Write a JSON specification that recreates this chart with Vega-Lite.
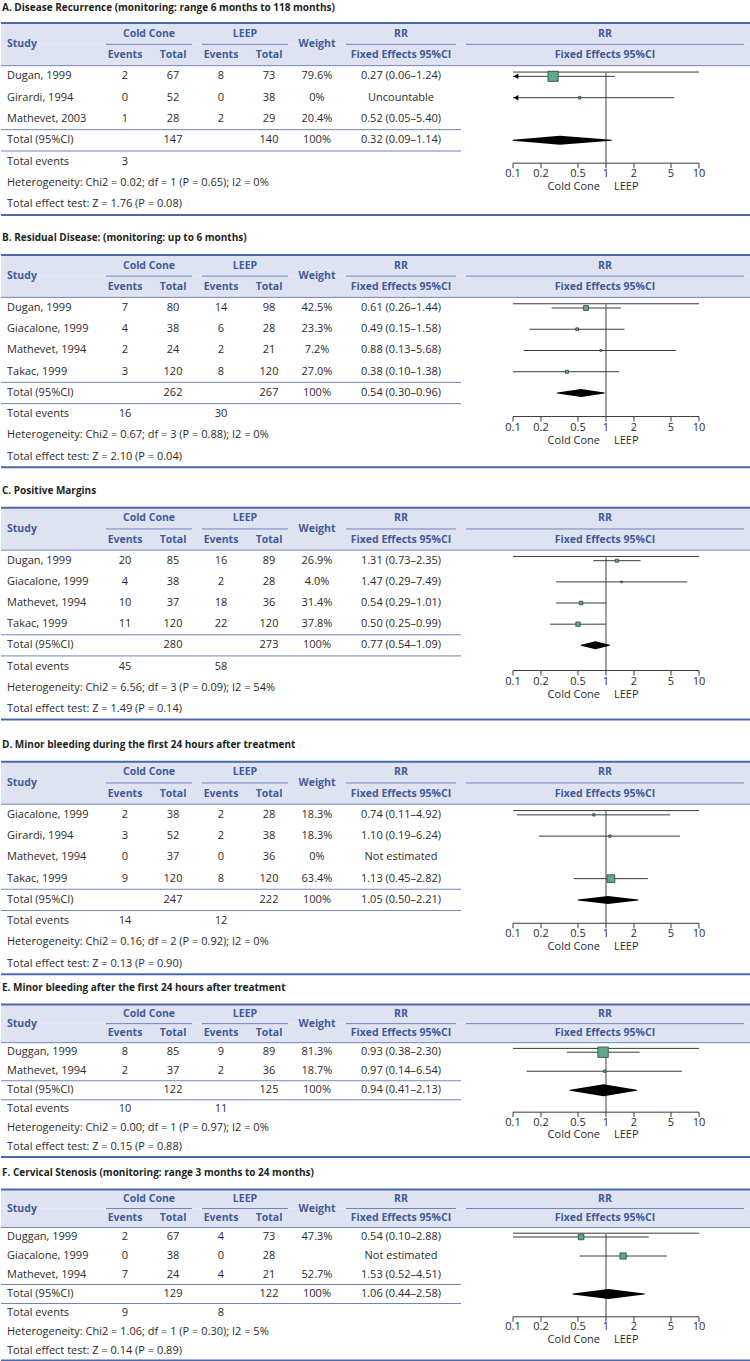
{
"$schema": "https://vega.github.io/schema/vega-lite/v6.json",
"padding": {"left": 0, "right": 0, "top": 3, "bottom": 0},
"spacing": 6.9,
"data": {"values": [{}]},
"config": {
 "view": {"stroke": null},
 "text": {"font": "Open Sans", "fontSize": 11, "color": "#2b2b2b", "baseline": "middle"},
 "title": {"font": "Open Sans", "fontSize": 10, "fontWeight": "bold", "anchor": "start", "frame": "group", "color": "#231f20", "offset": 11, "dx": 1}
},
"datasets": {
 "hdrbg": [{"row": "h1"}, {"row": "h2"}],
 "tlines": [{"row": "tot"}, {"row": "ev"}],
 "extent": [{"a": 0.1, "b": 10}],
 "header": [
  {"row": "h1", "col": "cc", "label": "Cold Cone"},
  {"row": "h1", "col": "lp", "label": "LEEP"},
  {"row": "h1", "col": "rr", "label": "RR"},
  {"row": "h1", "col": "fp", "label": "RR"},
  {"row": "h2", "col": "ce", "label": "Events"},
  {"row": "h2", "col": "ct", "label": "Total"},
  {"row": "h2", "col": "le", "label": "Events"},
  {"row": "h2", "col": "lt", "label": "Total"},
  {"row": "h2", "col": "rr", "label": "Fixed Effects 95%CI"},
  {"row": "h2", "col": "fp", "label": "Fixed Effects 95%CI"},
  {"row": "hs", "col": "w", "label": "Weight"},
  {"row": "hs", "col": "study", "label": "Study"}
 ],
 "ticks": [{"v": 0.1, "lab": "0.1"}, {"v": 0.2, "lab": "0.2"}, {"v": 0.5, "lab": "0.5"}, {"v": 1, "lab": "1"}, {"v": 2, "lab": "2"}, {"v": 5, "lab": "5"}, {"v": 10, "lab": "10"}],
 "tab": [
  {"sec": "A", "row": "r1", "study": "Dugan, 1999", "ce": "2", "ct": "67", "le": "8", "lt": "73", "w": "79.6%", "rr": "0.27 (0.06–1.24)"},
  {"sec": "A", "row": "r2", "study": "Girardi, 1994", "ce": "0", "ct": "52", "le": "0", "lt": "38", "w": "0%", "rr": "Uncountable"},
  {"sec": "A", "row": "r3", "study": "Mathevet, 2003", "ce": "1", "ct": "28", "le": "2", "lt": "29", "w": "20.4%", "rr": "0.52 (0.05–5.40)"},
  {"sec": "A", "row": "tot", "study": "Total (95%CI)", "ct": "147", "lt": "140", "w": "100%", "rr": "0.32 (0.09–1.14)"},
  {"sec": "A", "row": "ev", "study": "Total events", "ce": "3"},
  {"sec": "A", "row": "het", "study": "Heterogeneity: Chi2 = 0.02; df = 1 (P = 0.65); I2 = 0%"},
  {"sec": "A", "row": "z", "study": "Total effect test: Z = 1.76 (P = 0.08)"},
  {"sec": "B", "row": "r1", "study": "Dugan, 1999", "ce": "7", "ct": "80", "le": "14", "lt": "98", "w": "42.5%", "rr": "0.61 (0.26–1.44)"},
  {"sec": "B", "row": "r2", "study": "Giacalone, 1999", "ce": "4", "ct": "38", "le": "6", "lt": "28", "w": "23.3%", "rr": "0.49 (0.15–1.58)"},
  {"sec": "B", "row": "r3", "study": "Mathevet, 1994", "ce": "2", "ct": "24", "le": "2", "lt": "21", "w": "7.2%", "rr": "0.88 (0.13–5.68)"},
  {"sec": "B", "row": "r4", "study": "Takac, 1999", "ce": "3", "ct": "120", "le": "8", "lt": "120", "w": "27.0%", "rr": "0.38 (0.10–1.38)"},
  {"sec": "B", "row": "tot", "study": "Total (95%CI)", "ct": "262", "lt": "267", "w": "100%", "rr": "0.54 (0.30–0.96)"},
  {"sec": "B", "row": "ev", "study": "Total events", "ce": "16", "le": "30"},
  {"sec": "B", "row": "het", "study": "Heterogeneity: Chi2 = 0.67; df = 3 (P = 0.88); I2 = 0%"},
  {"sec": "B", "row": "z", "study": "Total effect test: Z = 2.10 (P = 0.04)"},
  {"sec": "C", "row": "r1", "study": "Dugan, 1999", "ce": "20", "ct": "85", "le": "16", "lt": "89", "w": "26.9%", "rr": "1.31 (0.73–2.35)"},
  {"sec": "C", "row": "r2", "study": "Giacalone, 1999", "ce": "4", "ct": "38", "le": "2", "lt": "28", "w": "4.0%", "rr": "1.47 (0.29–7.49)"},
  {"sec": "C", "row": "r3", "study": "Mathevet, 1994", "ce": "10", "ct": "37", "le": "18", "lt": "36", "w": "31.4%", "rr": "0.54 (0.29–1.01)"},
  {"sec": "C", "row": "r4", "study": "Takac, 1999", "ce": "11", "ct": "120", "le": "22", "lt": "120", "w": "37.8%", "rr": "0.50 (0.25–0.99)"},
  {"sec": "C", "row": "tot", "study": "Total (95%CI)", "ct": "280", "lt": "273", "w": "100%", "rr": "0.77 (0.54–1.09)"},
  {"sec": "C", "row": "ev", "study": "Total events", "ce": "45", "le": "58"},
  {"sec": "C", "row": "het", "study": "Heterogeneity: Chi2 = 6.56; df = 3 (P = 0.09); I2 = 54%"},
  {"sec": "C", "row": "z", "study": "Total effect test:  Z = 1.49 (P = 0.14)"},
  {"sec": "D", "row": "r1", "study": "Giacalone, 1999", "ce": "2", "ct": "38", "le": "2", "lt": "28", "w": "18.3%", "rr": "0.74 (0.11–4.92)"},
  {"sec": "D", "row": "r2", "study": "Girardi, 1994", "ce": "3", "ct": "52", "le": "2", "lt": "38", "w": "18.3%", "rr": "1.10 (0.19–6.24)"},
  {"sec": "D", "row": "r3", "study": "Mathevet, 1994", "ce": "0", "ct": "37", "le": "0", "lt": "36", "w": "0%", "rr": "Not estimated"},
  {"sec": "D", "row": "r4", "study": "Takac, 1999", "ce": "9", "ct": "120", "le": "8", "lt": "120", "w": "63.4%", "rr": "1.13 (0.45–2.82)"},
  {"sec": "D", "row": "tot", "study": "Total (95%CI)", "ct": "247", "lt": "222", "w": "100%", "rr": "1.05 (0.50–2.21)"},
  {"sec": "D", "row": "ev", "study": "Total events", "ce": "14", "le": "12"},
  {"sec": "D", "row": "het", "study": "Heterogeneity:  Chi2 = 0.16; df = 2 (P = 0.92); I2 = 0%"},
  {"sec": "D", "row": "z", "study": "Total effect test: Z = 0.13 (P = 0.90)"},
  {"sec": "E", "row": "r1", "study": "Duggan, 1999", "ce": "8", "ct": "85", "le": "9", "lt": "89", "w": "81.3%", "rr": "0.93 (0.38–2.30)"},
  {"sec": "E", "row": "r2", "study": "Mathevet, 1994", "ce": "2", "ct": "37", "le": "2", "lt": "36", "w": "18.7%", "rr": "0.97 (0.14–6.54)"},
  {"sec": "E", "row": "tot", "study": "Total (95%CI)", "ct": "122", "lt": "125", "w": "100%", "rr": "0.94 (0.41–2.13)"},
  {"sec": "E", "row": "ev", "study": "Total events", "ce": "10", "le": "11"},
  {"sec": "E", "row": "het", "study": "Heterogeneity: Chi2 = 0.00; df = 1 (P = 0.97); I2 = 0%"},
  {"sec": "E", "row": "z", "study": "Total effect test: Z = 0.15 (P = 0.88)"},
  {"sec": "F", "row": "r1", "study": "Duggan, 1999", "ce": "2", "ct": "67", "le": "4", "lt": "73", "w": "47.3%", "rr": "0.54 (0.10–2.88)"},
  {"sec": "F", "row": "r2", "study": "Giacalone, 1999", "ce": "0", "ct": "38", "le": "0", "lt": "28", "rr": "Not estimated"},
  {"sec": "F", "row": "r3", "study": "Mathevet, 1994", "ce": "7", "ct": "24", "le": "4", "lt": "21", "w": "52.7%", "rr": "1.53 (0.52–4.51)"},
  {"sec": "F", "row": "tot", "study": "Total (95%CI)", "ct": "129", "lt": "122", "w": "100%", "rr": "1.06 (0.44–2.58)"},
  {"sec": "F", "row": "ev", "study": "Total events", "ce": "9", "le": "8"},
  {"sec": "F", "row": "het", "study": "Heterogeneity: Chi2 = 1.06; df = 1 (P = 0.30); I2 = 5%"},
  {"sec": "F", "row": "z", "study": "Total effect test: Z = 0.14 (P = 0.89)"}
 ],
 "plot": [
  {"sec": "A", "row": "r1", "est": 0.27, "lo": 0.06, "hi": 1.24, "w": 79.6},
  {"sec": "A", "row": "r2", "est": 0.52, "lo": 0.05, "hi": 5.40, "w": 20.4},
  {"sec": "B", "row": "r1", "est": 0.61, "lo": 0.26, "hi": 1.44, "w": 42.5},
  {"sec": "B", "row": "r2", "est": 0.49, "lo": 0.15, "hi": 1.58, "w": 23.3},
  {"sec": "B", "row": "r3", "est": 0.88, "lo": 0.13, "hi": 5.68, "w": 7.2},
  {"sec": "B", "row": "r4", "est": 0.38, "lo": 0.10, "hi": 1.38, "w": 27.0},
  {"sec": "C", "row": "r1", "est": 1.31, "lo": 0.73, "hi": 2.35, "w": 26.9},
  {"sec": "C", "row": "r2", "est": 1.47, "lo": 0.29, "hi": 7.49, "w": 4.0},
  {"sec": "C", "row": "r3", "est": 0.54, "lo": 0.29, "hi": 1.01, "w": 31.4},
  {"sec": "C", "row": "r4", "est": 0.50, "lo": 0.25, "hi": 0.99, "w": 37.8},
  {"sec": "D", "row": "r1", "est": 0.74, "lo": 0.11, "hi": 4.92, "w": 18.3},
  {"sec": "D", "row": "r2", "est": 1.10, "lo": 0.19, "hi": 6.24, "w": 18.3},
  {"sec": "D", "row": "r4", "est": 1.13, "lo": 0.45, "hi": 2.82, "w": 63.4},
  {"sec": "E", "row": "r1", "est": 0.93, "lo": 0.38, "hi": 2.30, "w": 81.3},
  {"sec": "E", "row": "r2", "est": 0.97, "lo": 0.14, "hi": 6.54, "w": 18.7},
  {"sec": "F", "row": "r1", "est": 0.54, "lo": 0.10, "hi": 2.88, "w": 47.3},
  {"sec": "F", "row": "r2", "est": 1.53, "lo": 0.52, "hi": 4.51, "w": 52.7}
 ],
 "pool": [
  {"sec": "A", "row": "tot", "est": 0.32, "lo": 0.09, "hi": 1.14},
  {"sec": "B", "row": "tot", "est": 0.54, "lo": 0.30, "hi": 0.96},
  {"sec": "C", "row": "tot", "est": 0.77, "lo": 0.54, "hi": 1.09},
  {"sec": "D", "row": "tot", "est": 1.05, "lo": 0.50, "hi": 2.21},
  {"sec": "E", "row": "tot", "est": 0.94, "lo": 0.41, "hi": 2.13},
  {"sec": "F", "row": "tot", "est": 1.06, "lo": 0.44, "hi": 2.58}
 ]
},
"vconcat": [
 {
  "width": 750, "height": 201.3,
  "title": {"text": "A. Disease Recurrence (monitoring: range 6 months to 118 months)", "offset": 9},
  "encoding": {"y": {"field": "row", "type": "nominal", "axis": null, "scale": {"domain": ["h1","h2","r1","r2","r3","tot","ev","het","z"], "range": [0, 192], "paddingInner": 0, "paddingOuter": 0}}},
  "resolve": {"scale": {"x": "independent"}},
  "layer": [
   {"data": {"name": "hdrbg"}, "mark": {"type": "rect", "color": "#dfe3f1"}},
   {"mark": {"type": "rule", "color": "#4a68ab", "strokeWidth": 2}, "encoding": {"y": {"datum": "h1", "bandPosition": 0}}},
   {"mark": {"type": "rule", "color": "#4a68ab", "strokeWidth": 2}, "encoding": {"y": {"datum": "z", "bandPosition": 1}}},
   {"mark": {"type": "rule", "color": "#6f86bd", "strokeWidth": 1}, "encoding": {"y": {"datum": "r1", "bandPosition": 0}}},
   {
    "encoding": {"x": {"field": "col", "type": "nominal", "axis": null, "scale": {"type": "point", "range": [4, 748], "padding": 0, "domain": ["study","p1","p2","p3","p4","p5","p6","p7","p8","p9","ce","p11","cc","p13","ct","p15","p16","p17","le","p19","lp","p21","lt","p23","p24","p25","w","p27","p28","p29","p30","p31","p32","rr","p34","p35","p36","p37","p38","p39","p40","p41","p42","p43","p44","p45","p46","p47","p48","p49","fp","p51","p52","p53","p54","p55","p56","p57","p58","p59","p60","p61","p62"]}}},
    "layer": [
     {"data": {"name": "header"}, "transform": [{"filter": "datum.row != 'hs'"}], "mark": {"type": "text", "fontWeight": "bold", "fontSize": 10.5, "color": "#3e5b9a"}, "encoding": {"text": {"field": "label"}}},
     {"data": {"name": "header"}, "transform": [{"filter": "datum.col == 'w'"}], "mark": {"type": "text", "fontWeight": "bold", "fontSize": 10.5, "color": "#3e5b9a"}, "encoding": {"text": {"field": "label"}, "y": {"datum": "h2", "bandPosition": 0}}},
     {"data": {"name": "header"}, "transform": [{"filter": "datum.col == 'study'"}], "mark": {"type": "text", "fontWeight": "bold", "fontSize": 10.5, "color": "#3e5b9a", "align": "left", "dx": 2}, "encoding": {"text": {"field": "label"}, "y": {"datum": "h2", "bandPosition": 0}}},
     {"mark": {"type": "rule", "color": "#6f86bd", "xOffset": 5, "x2Offset": -5}, "encoding": {"x": {"datum": "p8"}, "x2": {"datum": "p16"}, "y": {"datum": "h2", "bandPosition": 0}}},
     {"mark": {"type": "rule", "color": "#6f86bd", "xOffset": 5, "x2Offset": -5}, "encoding": {"x": {"datum": "p16"}, "x2": {"datum": "p24"}, "y": {"datum": "h2", "bandPosition": 0}}},
     {"mark": {"type": "rule", "color": "#6f86bd", "xOffset": 5, "x2Offset": -5}, "encoding": {"x": {"datum": "p28"}, "x2": {"datum": "p38"}, "y": {"datum": "h2", "bandPosition": 0}}},
     {"mark": {"type": "rule", "color": "#6f86bd", "xOffset": 5, "x2Offset": -5}, "encoding": {"x": {"datum": "p38"}, "x2": {"datum": "p62"}, "y": {"datum": "h2", "bandPosition": 0}}},
     {"data": {"name": "tlines"}, "mark": {"type": "rule", "color": "#6f86bd", "xOffset": -4}, "encoding": {"x": {"datum": "study"}, "x2": {"datum": "p38"}, "y": {"field": "row", "type": "nominal", "bandPosition": 0}}},
     {"data": {"name": "tab"}, "transform": [{"filter": "datum.sec == 'A'"}], "mark": {"type": "text", "align": "left", "dx": 2}, "encoding": {"x": {"datum": "study"}, "text": {"field": "study"}}},
     {"data": {"name": "tab"}, "transform": [{"filter": "datum.sec == 'A'"}, {"fold": ["ce","ct","le","lt","w","rr"], "as": ["col","val"]}, {"filter": "isValid(datum.val)"}], "mark": {"type": "text"}, "encoding": {"text": {"field": "val"}}}
    ]
   },
   {
    "encoding": {"x": {"field": "est", "type": "quantitative", "axis": null, "scale": {"type": "log", "domain": [0.1, 10], "range": [512, 698], "clamp": true}}},
    "resolve": {"scale": {"size": "independent"}},
    "layer": [
     {"data": {"name": "extent"}, "mark": {"type": "rule", "color": "#3a3a3a"}, "encoding": {"x": {"field": "a", "type": "quantitative"}, "x2": {"field": "b"}, "y": {"datum": "r1", "bandPosition": 0.3}}},
     {"data": {"name": "ticks"}, "transform": [{"filter": "datum.v == 1"}], "mark": {"type": "rule", "color": "#808080", "strokeWidth": 1.5}, "encoding": {"x": {"field": "v", "type": "quantitative"}, "y": {"datum": "r1", "bandPosition": 0.3}, "y2": {"datum": "ev", "bandPosition": 0.57}}},
     {"data": {"name": "extent"}, "mark": {"type": "rule", "color": "#3a3a3a"}, "encoding": {"x": {"field": "a", "type": "quantitative"}, "x2": {"field": "b"}, "y": {"datum": "ev", "bandPosition": 0.57}}},
     {"data": {"name": "ticks"}, "mark": {"type": "rule", "color": "#3a3a3a"}, "encoding": {"x": {"field": "v", "type": "quantitative"}, "y": {"datum": "ev", "bandPosition": 0.57}, "y2": {"datum": "ev", "bandPosition": 0.805}}},
     {"data": {"name": "ticks"}, "mark": {"type": "text", "dy": 11}, "encoding": {"x": {"field": "v", "type": "quantitative"}, "y": {"datum": "ev", "bandPosition": 0.57}, "text": {"field": "lab"}}},
     {"data": {"name": "ticks"}, "transform": [{"filter": "datum.v == 1"}], "mark": {"type": "text", "align": "right", "dx": -6, "dy": 24, "text": "Cold Cone"}, "encoding": {"x": {"field": "v", "type": "quantitative"}, "y": {"datum": "ev", "bandPosition": 0.57}}},
     {"data": {"name": "ticks"}, "transform": [{"filter": "datum.v == 1"}], "mark": {"type": "text", "align": "left", "dx": 8, "dy": 24, "text": "LEEP"}, "encoding": {"x": {"field": "v", "type": "quantitative"}, "y": {"datum": "ev", "bandPosition": 0.57}}},
     {"data": {"name": "plot"}, "transform": [{"filter": "datum.sec == 'A'"}], "mark": {"type": "rule", "color": "#3a3a3a"}, "encoding": {"x": {"field": "lo", "type": "quantitative"}, "x2": {"field": "hi"}}},
     {"data": {"name": "plot"}, "transform": [{"filter": "datum.sec == 'A' && datum.lo < 0.1"}], "mark": {"type": "point", "shape": "triangle-left", "filled": true, "color": "#000000", "size": 30, "xOffset": 3, "opacity": 1}, "encoding": {"x": {"field": "lo", "type": "quantitative"}}},
     {"data": {"name": "plot"}, "transform": [{"filter": "datum.sec == 'A'"}], "mark": {"type": "point", "shape": "square", "filled": true, "fill": "#5fa98a", "stroke": "#2b4a3a", "strokeWidth": 0.8, "opacity": 1}, "encoding": {"size": {"field": "w", "type": "quantitative", "legend": null, "scale": {"type": "pow", "exponent": 2.5, "domain": [0, 80], "range": [3, 105]}}}},
     {"data": {"name": "pool"}, "transform": [{"filter": "datum.sec == 'A'"}, {"fold": ["lo","est","hi"], "as": ["k","xv"]}], "mark": {"type": "trail", "color": "#000000"}, "encoding": {"x": {"field": "xv", "type": "quantitative"}, "order": {"field": "xv", "type": "quantitative"}, "size": {"field": "k", "type": "ordinal", "legend": null, "scale": {"type": "ordinal", "domain": ["lo","est","hi"], "range": [0, 9, 0]}}}}
    ]
   }
  ]
 },
 {
  "width": 750, "height": 223.9,
  "title": {"text": "B. Residual Disease: (monitoring: up to 6 months)"},
  "encoding": {"y": {"field": "row", "type": "nominal", "axis": null, "scale": {"domain": ["h1","h2","r1","r2","r3","r4","tot","ev","het","z"], "range": [0, 212.4], "paddingInner": 0, "paddingOuter": 0}}},
  "resolve": {"scale": {"x": "independent"}},
  "layer": [
   {"data": {"name": "hdrbg"}, "mark": {"type": "rect", "color": "#dfe3f1"}},
   {"mark": {"type": "rule", "color": "#4a68ab", "strokeWidth": 2}, "encoding": {"y": {"datum": "h1", "bandPosition": 0}}},
   {"mark": {"type": "rule", "color": "#4a68ab", "strokeWidth": 2}, "encoding": {"y": {"datum": "z", "bandPosition": 1}}},
   {"mark": {"type": "rule", "color": "#6f86bd", "strokeWidth": 1}, "encoding": {"y": {"datum": "r1", "bandPosition": 0}}},
   {
    "encoding": {"x": {"field": "col", "type": "nominal", "axis": null, "scale": {"type": "point", "range": [4, 748], "padding": 0, "domain": ["study","p1","p2","p3","p4","p5","p6","p7","p8","p9","ce","p11","cc","p13","ct","p15","p16","p17","le","p19","lp","p21","lt","p23","p24","p25","w","p27","p28","p29","p30","p31","p32","rr","p34","p35","p36","p37","p38","p39","p40","p41","p42","p43","p44","p45","p46","p47","p48","p49","fp","p51","p52","p53","p54","p55","p56","p57","p58","p59","p60","p61","p62"]}}},
    "layer": [
     {"data": {"name": "header"}, "transform": [{"filter": "datum.row != 'hs'"}], "mark": {"type": "text", "fontWeight": "bold", "fontSize": 10.5, "color": "#3e5b9a"}, "encoding": {"text": {"field": "label"}}},
     {"data": {"name": "header"}, "transform": [{"filter": "datum.col == 'w'"}], "mark": {"type": "text", "fontWeight": "bold", "fontSize": 10.5, "color": "#3e5b9a"}, "encoding": {"text": {"field": "label"}, "y": {"datum": "h2", "bandPosition": 0}}},
     {"data": {"name": "header"}, "transform": [{"filter": "datum.col == 'study'"}], "mark": {"type": "text", "fontWeight": "bold", "fontSize": 10.5, "color": "#3e5b9a", "align": "left", "dx": 2}, "encoding": {"text": {"field": "label"}, "y": {"datum": "h2", "bandPosition": 0}}},
     {"mark": {"type": "rule", "color": "#6f86bd", "xOffset": 5, "x2Offset": -5}, "encoding": {"x": {"datum": "p8"}, "x2": {"datum": "p16"}, "y": {"datum": "h2", "bandPosition": 0}}},
     {"mark": {"type": "rule", "color": "#6f86bd", "xOffset": 5, "x2Offset": -5}, "encoding": {"x": {"datum": "p16"}, "x2": {"datum": "p24"}, "y": {"datum": "h2", "bandPosition": 0}}},
     {"mark": {"type": "rule", "color": "#6f86bd", "xOffset": 5, "x2Offset": -5}, "encoding": {"x": {"datum": "p28"}, "x2": {"datum": "p38"}, "y": {"datum": "h2", "bandPosition": 0}}},
     {"mark": {"type": "rule", "color": "#6f86bd", "xOffset": 5, "x2Offset": -5}, "encoding": {"x": {"datum": "p38"}, "x2": {"datum": "p62"}, "y": {"datum": "h2", "bandPosition": 0}}},
     {"data": {"name": "tlines"}, "mark": {"type": "rule", "color": "#6f86bd", "xOffset": -4}, "encoding": {"x": {"datum": "study"}, "x2": {"datum": "p38"}, "y": {"field": "row", "type": "nominal", "bandPosition": 0}}},
     {"data": {"name": "tab"}, "transform": [{"filter": "datum.sec == 'B'"}], "mark": {"type": "text", "align": "left", "dx": 2}, "encoding": {"x": {"datum": "study"}, "text": {"field": "study"}}},
     {"data": {"name": "tab"}, "transform": [{"filter": "datum.sec == 'B'"}, {"fold": ["ce","ct","le","lt","w","rr"], "as": ["col","val"]}, {"filter": "isValid(datum.val)"}], "mark": {"type": "text"}, "encoding": {"text": {"field": "val"}}}
    ]
   },
   {
    "encoding": {"x": {"field": "est", "type": "quantitative", "axis": null, "scale": {"type": "log", "domain": [0.1, 10], "range": [512, 698], "clamp": true}}},
    "resolve": {"scale": {"size": "independent"}},
    "layer": [
     {"data": {"name": "extent"}, "mark": {"type": "rule", "color": "#3a3a3a"}, "encoding": {"x": {"field": "a", "type": "quantitative"}, "x2": {"field": "b"}, "y": {"datum": "r1", "bandPosition": 0.3}}},
     {"data": {"name": "ticks"}, "transform": [{"filter": "datum.v == 1"}], "mark": {"type": "rule", "color": "#808080", "strokeWidth": 1.5}, "encoding": {"x": {"field": "v", "type": "quantitative"}, "y": {"datum": "r1", "bandPosition": 0.3}, "y2": {"datum": "ev", "bandPosition": 0.61}}},
     {"data": {"name": "extent"}, "mark": {"type": "rule", "color": "#3a3a3a"}, "encoding": {"x": {"field": "a", "type": "quantitative"}, "x2": {"field": "b"}, "y": {"datum": "ev", "bandPosition": 0.61}}},
     {"data": {"name": "ticks"}, "mark": {"type": "rule", "color": "#3a3a3a"}, "encoding": {"x": {"field": "v", "type": "quantitative"}, "y": {"datum": "ev", "bandPosition": 0.61}, "y2": {"datum": "ev", "bandPosition": 0.845}}},
     {"data": {"name": "ticks"}, "mark": {"type": "text", "dy": 11}, "encoding": {"x": {"field": "v", "type": "quantitative"}, "y": {"datum": "ev", "bandPosition": 0.61}, "text": {"field": "lab"}}},
     {"data": {"name": "ticks"}, "transform": [{"filter": "datum.v == 1"}], "mark": {"type": "text", "align": "right", "dx": -6, "dy": 24, "text": "Cold Cone"}, "encoding": {"x": {"field": "v", "type": "quantitative"}, "y": {"datum": "ev", "bandPosition": 0.61}}},
     {"data": {"name": "ticks"}, "transform": [{"filter": "datum.v == 1"}], "mark": {"type": "text", "align": "left", "dx": 8, "dy": 24, "text": "LEEP"}, "encoding": {"x": {"field": "v", "type": "quantitative"}, "y": {"datum": "ev", "bandPosition": 0.61}}},
     {"data": {"name": "plot"}, "transform": [{"filter": "datum.sec == 'B'"}], "mark": {"type": "rule", "color": "#3a3a3a"}, "encoding": {"x": {"field": "lo", "type": "quantitative"}, "x2": {"field": "hi"}}},
     {"data": {"name": "plot"}, "transform": [{"filter": "datum.sec == 'B'"}], "mark": {"type": "point", "shape": "square", "filled": true, "fill": "#5fa98a", "stroke": "#2b4a3a", "strokeWidth": 0.8, "opacity": 1}, "encoding": {"size": {"field": "w", "type": "quantitative", "legend": null, "scale": {"type": "pow", "exponent": 2.5, "domain": [0, 80], "range": [3, 105]}}}},
     {"data": {"name": "pool"}, "transform": [{"filter": "datum.sec == 'B'"}, {"fold": ["lo","est","hi"], "as": ["k","xv"]}], "mark": {"type": "trail", "color": "#000000"}, "encoding": {"x": {"field": "xv", "type": "quantitative"}, "order": {"field": "xv", "type": "quantitative"}, "size": {"field": "k", "type": "ordinal", "legend": null, "scale": {"type": "ordinal", "domain": ["lo","est","hi"], "range": [0, 8, 0]}}}}
    ]
   }
  ]
 },
 {
  "width": 750, "height": 224.2,
  "title": {"text": "C. Positive Margins"},
  "encoding": {"y": {"field": "row", "type": "nominal", "axis": null, "scale": {"domain": ["h1","h2","r1","r2","r3","r4","tot","ev","het","z"], "range": [0, 211.6], "paddingInner": 0, "paddingOuter": 0}}},
  "resolve": {"scale": {"x": "independent"}},
  "layer": [
   {"data": {"name": "hdrbg"}, "mark": {"type": "rect", "color": "#dfe3f1"}},
   {"mark": {"type": "rule", "color": "#4a68ab", "strokeWidth": 2}, "encoding": {"y": {"datum": "h1", "bandPosition": 0}}},
   {"mark": {"type": "rule", "color": "#4a68ab", "strokeWidth": 2}, "encoding": {"y": {"datum": "z", "bandPosition": 1}}},
   {"mark": {"type": "rule", "color": "#6f86bd", "strokeWidth": 1}, "encoding": {"y": {"datum": "r1", "bandPosition": 0}}},
   {
    "encoding": {"x": {"field": "col", "type": "nominal", "axis": null, "scale": {"type": "point", "range": [4, 748], "padding": 0, "domain": ["study","p1","p2","p3","p4","p5","p6","p7","p8","p9","ce","p11","cc","p13","ct","p15","p16","p17","le","p19","lp","p21","lt","p23","p24","p25","w","p27","p28","p29","p30","p31","p32","rr","p34","p35","p36","p37","p38","p39","p40","p41","p42","p43","p44","p45","p46","p47","p48","p49","fp","p51","p52","p53","p54","p55","p56","p57","p58","p59","p60","p61","p62"]}}},
    "layer": [
     {"data": {"name": "header"}, "transform": [{"filter": "datum.row != 'hs'"}], "mark": {"type": "text", "fontWeight": "bold", "fontSize": 10.5, "color": "#3e5b9a"}, "encoding": {"text": {"field": "label"}}},
     {"data": {"name": "header"}, "transform": [{"filter": "datum.col == 'w'"}], "mark": {"type": "text", "fontWeight": "bold", "fontSize": 10.5, "color": "#3e5b9a"}, "encoding": {"text": {"field": "label"}, "y": {"datum": "h2", "bandPosition": 0}}},
     {"data": {"name": "header"}, "transform": [{"filter": "datum.col == 'study'"}], "mark": {"type": "text", "fontWeight": "bold", "fontSize": 10.5, "color": "#3e5b9a", "align": "left", "dx": 2}, "encoding": {"text": {"field": "label"}, "y": {"datum": "h2", "bandPosition": 0}}},
     {"mark": {"type": "rule", "color": "#6f86bd", "xOffset": 5, "x2Offset": -5}, "encoding": {"x": {"datum": "p8"}, "x2": {"datum": "p16"}, "y": {"datum": "h2", "bandPosition": 0}}},
     {"mark": {"type": "rule", "color": "#6f86bd", "xOffset": 5, "x2Offset": -5}, "encoding": {"x": {"datum": "p16"}, "x2": {"datum": "p24"}, "y": {"datum": "h2", "bandPosition": 0}}},
     {"mark": {"type": "rule", "color": "#6f86bd", "xOffset": 5, "x2Offset": -5}, "encoding": {"x": {"datum": "p28"}, "x2": {"datum": "p38"}, "y": {"datum": "h2", "bandPosition": 0}}},
     {"mark": {"type": "rule", "color": "#6f86bd", "xOffset": 5, "x2Offset": -5}, "encoding": {"x": {"datum": "p38"}, "x2": {"datum": "p62"}, "y": {"datum": "h2", "bandPosition": 0}}},
     {"data": {"name": "tlines"}, "mark": {"type": "rule", "color": "#6f86bd", "xOffset": -4}, "encoding": {"x": {"datum": "study"}, "x2": {"datum": "p38"}, "y": {"field": "row", "type": "nominal", "bandPosition": 0}}},
     {"data": {"name": "tab"}, "transform": [{"filter": "datum.sec == 'C'"}], "mark": {"type": "text", "align": "left", "dx": 2}, "encoding": {"x": {"datum": "study"}, "text": {"field": "study"}}},
     {"data": {"name": "tab"}, "transform": [{"filter": "datum.sec == 'C'"}, {"fold": ["ce","ct","le","lt","w","rr"], "as": ["col","val"]}, {"filter": "isValid(datum.val)"}], "mark": {"type": "text"}, "encoding": {"text": {"field": "val"}}}
    ]
   },
   {
    "encoding": {"x": {"field": "est", "type": "quantitative", "axis": null, "scale": {"type": "log", "domain": [0.1, 10], "range": [512, 698], "clamp": true}}},
    "resolve": {"scale": {"size": "independent"}},
    "layer": [
     {"data": {"name": "extent"}, "mark": {"type": "rule", "color": "#3a3a3a"}, "encoding": {"x": {"field": "a", "type": "quantitative"}, "x2": {"field": "b"}, "y": {"datum": "r1", "bandPosition": 0.3}}},
     {"data": {"name": "ticks"}, "transform": [{"filter": "datum.v == 1"}], "mark": {"type": "rule", "color": "#808080", "strokeWidth": 1.5}, "encoding": {"x": {"field": "v", "type": "quantitative"}, "y": {"datum": "r1", "bandPosition": 0.3}, "y2": {"datum": "ev", "bandPosition": 0.69}}},
     {"data": {"name": "extent"}, "mark": {"type": "rule", "color": "#3a3a3a"}, "encoding": {"x": {"field": "a", "type": "quantitative"}, "x2": {"field": "b"}, "y": {"datum": "ev", "bandPosition": 0.69}}},
     {"data": {"name": "ticks"}, "mark": {"type": "rule", "color": "#3a3a3a"}, "encoding": {"x": {"field": "v", "type": "quantitative"}, "y": {"datum": "ev", "bandPosition": 0.69}, "y2": {"datum": "ev", "bandPosition": 0.925}}},
     {"data": {"name": "ticks"}, "mark": {"type": "text", "dy": 11}, "encoding": {"x": {"field": "v", "type": "quantitative"}, "y": {"datum": "ev", "bandPosition": 0.69}, "text": {"field": "lab"}}},
     {"data": {"name": "ticks"}, "transform": [{"filter": "datum.v == 1"}], "mark": {"type": "text", "align": "right", "dx": -6, "dy": 24, "text": "Cold Cone"}, "encoding": {"x": {"field": "v", "type": "quantitative"}, "y": {"datum": "ev", "bandPosition": 0.69}}},
     {"data": {"name": "ticks"}, "transform": [{"filter": "datum.v == 1"}], "mark": {"type": "text", "align": "left", "dx": 8, "dy": 24, "text": "LEEP"}, "encoding": {"x": {"field": "v", "type": "quantitative"}, "y": {"datum": "ev", "bandPosition": 0.69}}},
     {"data": {"name": "plot"}, "transform": [{"filter": "datum.sec == 'C'"}], "mark": {"type": "rule", "color": "#3a3a3a"}, "encoding": {"x": {"field": "lo", "type": "quantitative"}, "x2": {"field": "hi"}}},
     {"data": {"name": "plot"}, "transform": [{"filter": "datum.sec == 'C'"}], "mark": {"type": "point", "shape": "square", "filled": true, "fill": "#5fa98a", "stroke": "#2b4a3a", "strokeWidth": 0.8, "opacity": 1}, "encoding": {"size": {"field": "w", "type": "quantitative", "legend": null, "scale": {"type": "pow", "exponent": 2.5, "domain": [0, 80], "range": [3, 105]}}}},
     {"data": {"name": "pool"}, "transform": [{"filter": "datum.sec == 'C'"}, {"fold": ["lo","est","hi"], "as": ["k","xv"]}], "mark": {"type": "trail", "color": "#000000"}, "encoding": {"x": {"field": "xv", "type": "quantitative"}, "order": {"field": "xv", "type": "quantitative"}, "size": {"field": "k", "type": "ordinal", "legend": null, "scale": {"type": "ordinal", "domain": ["lo","est","hi"], "range": [0, 8, 0]}}}}
    ]
   }
  ]
 },
 {
  "width": 750, "height": 212.6,
  "title": {"text": "D. Minor bleeding during the first 24 hours after treatment"},
  "encoding": {"y": {"field": "row", "type": "nominal", "axis": null, "scale": {"domain": ["h1","h2","r1","r2","r3","r4","tot","ev","het","z"], "range": [0, 212.6], "paddingInner": 0, "paddingOuter": 0}}},
  "resolve": {"scale": {"x": "independent"}},
  "layer": [
   {"data": {"name": "hdrbg"}, "mark": {"type": "rect", "color": "#dfe3f1"}},
   {"mark": {"type": "rule", "color": "#4a68ab", "strokeWidth": 2}, "encoding": {"y": {"datum": "h1", "bandPosition": 0}}},
   {"mark": {"type": "rule", "color": "#4a68ab", "strokeWidth": 2}, "encoding": {"y": {"datum": "z", "bandPosition": 1}}},
   {"mark": {"type": "rule", "color": "#6f86bd", "strokeWidth": 1}, "encoding": {"y": {"datum": "r1", "bandPosition": 0}}},
   {
    "encoding": {"x": {"field": "col", "type": "nominal", "axis": null, "scale": {"type": "point", "range": [4, 748], "padding": 0, "domain": ["study","p1","p2","p3","p4","p5","p6","p7","p8","p9","ce","p11","cc","p13","ct","p15","p16","p17","le","p19","lp","p21","lt","p23","p24","p25","w","p27","p28","p29","p30","p31","p32","rr","p34","p35","p36","p37","p38","p39","p40","p41","p42","p43","p44","p45","p46","p47","p48","p49","fp","p51","p52","p53","p54","p55","p56","p57","p58","p59","p60","p61","p62"]}}},
    "layer": [
     {"data": {"name": "header"}, "transform": [{"filter": "datum.row != 'hs'"}], "mark": {"type": "text", "fontWeight": "bold", "fontSize": 10.5, "color": "#3e5b9a"}, "encoding": {"text": {"field": "label"}}},
     {"data": {"name": "header"}, "transform": [{"filter": "datum.col == 'w'"}], "mark": {"type": "text", "fontWeight": "bold", "fontSize": 10.5, "color": "#3e5b9a"}, "encoding": {"text": {"field": "label"}, "y": {"datum": "h2", "bandPosition": 0}}},
     {"data": {"name": "header"}, "transform": [{"filter": "datum.col == 'study'"}], "mark": {"type": "text", "fontWeight": "bold", "fontSize": 10.5, "color": "#3e5b9a", "align": "left", "dx": 2}, "encoding": {"text": {"field": "label"}, "y": {"datum": "h2", "bandPosition": 0}}},
     {"mark": {"type": "rule", "color": "#6f86bd", "xOffset": 5, "x2Offset": -5}, "encoding": {"x": {"datum": "p8"}, "x2": {"datum": "p16"}, "y": {"datum": "h2", "bandPosition": 0}}},
     {"mark": {"type": "rule", "color": "#6f86bd", "xOffset": 5, "x2Offset": -5}, "encoding": {"x": {"datum": "p16"}, "x2": {"datum": "p24"}, "y": {"datum": "h2", "bandPosition": 0}}},
     {"mark": {"type": "rule", "color": "#6f86bd", "xOffset": 5, "x2Offset": -5}, "encoding": {"x": {"datum": "p28"}, "x2": {"datum": "p38"}, "y": {"datum": "h2", "bandPosition": 0}}},
     {"mark": {"type": "rule", "color": "#6f86bd", "xOffset": 5, "x2Offset": -5}, "encoding": {"x": {"datum": "p38"}, "x2": {"datum": "p62"}, "y": {"datum": "h2", "bandPosition": 0}}},
     {"data": {"name": "tlines"}, "mark": {"type": "rule", "color": "#6f86bd", "xOffset": -4}, "encoding": {"x": {"datum": "study"}, "x2": {"datum": "p38"}, "y": {"field": "row", "type": "nominal", "bandPosition": 0}}},
     {"data": {"name": "tab"}, "transform": [{"filter": "datum.sec == 'D'"}], "mark": {"type": "text", "align": "left", "dx": 2}, "encoding": {"x": {"datum": "study"}, "text": {"field": "study"}}},
     {"data": {"name": "tab"}, "transform": [{"filter": "datum.sec == 'D'"}, {"fold": ["ce","ct","le","lt","w","rr"], "as": ["col","val"]}, {"filter": "isValid(datum.val)"}], "mark": {"type": "text"}, "encoding": {"text": {"field": "val"}}}
    ]
   },
   {
    "encoding": {"x": {"field": "est", "type": "quantitative", "axis": null, "scale": {"type": "log", "domain": [0.1, 10], "range": [512, 698], "clamp": true}}},
    "resolve": {"scale": {"size": "independent"}},
    "layer": [
     {"data": {"name": "extent"}, "mark": {"type": "rule", "color": "#3a3a3a"}, "encoding": {"x": {"field": "a", "type": "quantitative"}, "x2": {"field": "b"}, "y": {"datum": "r1", "bandPosition": 0.3}}},
     {"data": {"name": "ticks"}, "transform": [{"filter": "datum.v == 1"}], "mark": {"type": "rule", "color": "#808080", "strokeWidth": 1.5}, "encoding": {"x": {"field": "v", "type": "quantitative"}, "y": {"datum": "r1", "bandPosition": 0.3}, "y2": {"datum": "ev", "bandPosition": 0.6}}},
     {"data": {"name": "extent"}, "mark": {"type": "rule", "color": "#3a3a3a"}, "encoding": {"x": {"field": "a", "type": "quantitative"}, "x2": {"field": "b"}, "y": {"datum": "ev", "bandPosition": 0.6}}},
     {"data": {"name": "ticks"}, "mark": {"type": "rule", "color": "#3a3a3a"}, "encoding": {"x": {"field": "v", "type": "quantitative"}, "y": {"datum": "ev", "bandPosition": 0.6}, "y2": {"datum": "ev", "bandPosition": 0.835}}},
     {"data": {"name": "ticks"}, "mark": {"type": "text", "dy": 11}, "encoding": {"x": {"field": "v", "type": "quantitative"}, "y": {"datum": "ev", "bandPosition": 0.6}, "text": {"field": "lab"}}},
     {"data": {"name": "ticks"}, "transform": [{"filter": "datum.v == 1"}], "mark": {"type": "text", "align": "right", "dx": -6, "dy": 24, "text": "Cold Cone"}, "encoding": {"x": {"field": "v", "type": "quantitative"}, "y": {"datum": "ev", "bandPosition": 0.6}}},
     {"data": {"name": "ticks"}, "transform": [{"filter": "datum.v == 1"}], "mark": {"type": "text", "align": "left", "dx": 8, "dy": 24, "text": "LEEP"}, "encoding": {"x": {"field": "v", "type": "quantitative"}, "y": {"datum": "ev", "bandPosition": 0.6}}},
     {"data": {"name": "plot"}, "transform": [{"filter": "datum.sec == 'D'"}], "mark": {"type": "rule", "color": "#3a3a3a"}, "encoding": {"x": {"field": "lo", "type": "quantitative"}, "x2": {"field": "hi"}}},
     {"data": {"name": "plot"}, "transform": [{"filter": "datum.sec == 'D'"}], "mark": {"type": "point", "shape": "square", "filled": true, "fill": "#5fa98a", "stroke": "#2b4a3a", "strokeWidth": 0.8, "opacity": 1}, "encoding": {"size": {"field": "w", "type": "quantitative", "legend": null, "scale": {"type": "pow", "exponent": 2.5, "domain": [0, 80], "range": [3, 105]}}}},
     {"data": {"name": "pool"}, "transform": [{"filter": "datum.sec == 'D'"}, {"fold": ["lo","est","hi"], "as": ["k","xv"]}], "mark": {"type": "trail", "color": "#000000"}, "encoding": {"x": {"field": "xv", "type": "quantitative"}, "order": {"field": "xv", "type": "quantitative"}, "size": {"field": "k", "type": "ordinal", "legend": null, "scale": {"type": "ordinal", "domain": ["lo","est","hi"], "range": [0, 8, 0]}}}}
    ]
   }
  ]
 },
 {
  "width": 750, "height": 155.1,
  "title": {"text": "E. Minor bleeding after the first 24 hours after treatment"},
  "encoding": {"y": {"field": "row", "type": "nominal", "axis": null, "scale": {"domain": ["h1","h2","r1","r2","tot","ev","het","z"], "range": [0, 152.3], "paddingInner": 0, "paddingOuter": 0}}},
  "resolve": {"scale": {"x": "independent"}},
  "layer": [
   {"data": {"name": "hdrbg"}, "mark": {"type": "rect", "color": "#dfe3f1"}},
   {"mark": {"type": "rule", "color": "#4a68ab", "strokeWidth": 2}, "encoding": {"y": {"datum": "h1", "bandPosition": 0}}},
   {"mark": {"type": "rule", "color": "#4a68ab", "strokeWidth": 2}, "encoding": {"y": {"datum": "z", "bandPosition": 1}}},
   {"mark": {"type": "rule", "color": "#6f86bd", "strokeWidth": 1}, "encoding": {"y": {"datum": "r1", "bandPosition": 0}}},
   {
    "encoding": {"x": {"field": "col", "type": "nominal", "axis": null, "scale": {"type": "point", "range": [4, 748], "padding": 0, "domain": ["study","p1","p2","p3","p4","p5","p6","p7","p8","p9","ce","p11","cc","p13","ct","p15","p16","p17","le","p19","lp","p21","lt","p23","p24","p25","w","p27","p28","p29","p30","p31","p32","rr","p34","p35","p36","p37","p38","p39","p40","p41","p42","p43","p44","p45","p46","p47","p48","p49","fp","p51","p52","p53","p54","p55","p56","p57","p58","p59","p60","p61","p62"]}}},
    "layer": [
     {"data": {"name": "header"}, "transform": [{"filter": "datum.row != 'hs'"}], "mark": {"type": "text", "fontWeight": "bold", "fontSize": 10.5, "color": "#3e5b9a"}, "encoding": {"text": {"field": "label"}}},
     {"data": {"name": "header"}, "transform": [{"filter": "datum.col == 'w'"}], "mark": {"type": "text", "fontWeight": "bold", "fontSize": 10.5, "color": "#3e5b9a"}, "encoding": {"text": {"field": "label"}, "y": {"datum": "h2", "bandPosition": 0}}},
     {"data": {"name": "header"}, "transform": [{"filter": "datum.col == 'study'"}], "mark": {"type": "text", "fontWeight": "bold", "fontSize": 10.5, "color": "#3e5b9a", "align": "left", "dx": 2}, "encoding": {"text": {"field": "label"}, "y": {"datum": "h2", "bandPosition": 0}}},
     {"mark": {"type": "rule", "color": "#6f86bd", "xOffset": 5, "x2Offset": -5}, "encoding": {"x": {"datum": "p8"}, "x2": {"datum": "p16"}, "y": {"datum": "h2", "bandPosition": 0}}},
     {"mark": {"type": "rule", "color": "#6f86bd", "xOffset": 5, "x2Offset": -5}, "encoding": {"x": {"datum": "p16"}, "x2": {"datum": "p24"}, "y": {"datum": "h2", "bandPosition": 0}}},
     {"mark": {"type": "rule", "color": "#6f86bd", "xOffset": 5, "x2Offset": -5}, "encoding": {"x": {"datum": "p28"}, "x2": {"datum": "p38"}, "y": {"datum": "h2", "bandPosition": 0}}},
     {"mark": {"type": "rule", "color": "#6f86bd", "xOffset": 5, "x2Offset": -5}, "encoding": {"x": {"datum": "p38"}, "x2": {"datum": "p62"}, "y": {"datum": "h2", "bandPosition": 0}}},
     {"data": {"name": "tlines"}, "mark": {"type": "rule", "color": "#6f86bd", "xOffset": -4}, "encoding": {"x": {"datum": "study"}, "x2": {"datum": "p38"}, "y": {"field": "row", "type": "nominal", "bandPosition": 0}}},
     {"data": {"name": "tab"}, "transform": [{"filter": "datum.sec == 'E'"}], "mark": {"type": "text", "align": "left", "dx": 2}, "encoding": {"x": {"datum": "study"}, "text": {"field": "study"}}},
     {"data": {"name": "tab"}, "transform": [{"filter": "datum.sec == 'E'"}, {"fold": ["ce","ct","le","lt","w","rr"], "as": ["col","val"]}, {"filter": "isValid(datum.val)"}], "mark": {"type": "text"}, "encoding": {"text": {"field": "val"}}}
    ]
   },
   {
    "encoding": {"x": {"field": "est", "type": "quantitative", "axis": null, "scale": {"type": "log", "domain": [0.1, 10], "range": [512, 698], "clamp": true}}},
    "resolve": {"scale": {"size": "independent"}},
    "layer": [
     {"data": {"name": "extent"}, "mark": {"type": "rule", "color": "#3a3a3a"}, "encoding": {"x": {"field": "a", "type": "quantitative"}, "x2": {"field": "b"}, "y": {"datum": "r1", "bandPosition": 0.3}}},
     {"data": {"name": "ticks"}, "transform": [{"filter": "datum.v == 1"}], "mark": {"type": "rule", "color": "#808080", "strokeWidth": 1.5}, "encoding": {"x": {"field": "v", "type": "quantitative"}, "y": {"datum": "r1", "bandPosition": 0.3}, "y2": {"datum": "ev", "bandPosition": 0.65}}},
     {"data": {"name": "extent"}, "mark": {"type": "rule", "color": "#3a3a3a"}, "encoding": {"x": {"field": "a", "type": "quantitative"}, "x2": {"field": "b"}, "y": {"datum": "ev", "bandPosition": 0.65}}},
     {"data": {"name": "ticks"}, "mark": {"type": "rule", "color": "#3a3a3a"}, "encoding": {"x": {"field": "v", "type": "quantitative"}, "y": {"datum": "ev", "bandPosition": 0.65}, "y2": {"datum": "ev", "bandPosition": 0.91}}},
     {"data": {"name": "ticks"}, "mark": {"type": "text", "dy": 10.5}, "encoding": {"x": {"field": "v", "type": "quantitative"}, "y": {"datum": "ev", "bandPosition": 0.65}, "text": {"field": "lab"}}},
     {"data": {"name": "ticks"}, "transform": [{"filter": "datum.v == 1"}], "mark": {"type": "text", "align": "right", "dx": -6, "dy": 23, "text": "Cold Cone"}, "encoding": {"x": {"field": "v", "type": "quantitative"}, "y": {"datum": "ev", "bandPosition": 0.65}}},
     {"data": {"name": "ticks"}, "transform": [{"filter": "datum.v == 1"}], "mark": {"type": "text", "align": "left", "dx": 8, "dy": 23, "text": "LEEP"}, "encoding": {"x": {"field": "v", "type": "quantitative"}, "y": {"datum": "ev", "bandPosition": 0.65}}},
     {"data": {"name": "plot"}, "transform": [{"filter": "datum.sec == 'E'"}], "mark": {"type": "rule", "color": "#3a3a3a"}, "encoding": {"x": {"field": "lo", "type": "quantitative"}, "x2": {"field": "hi"}}},
     {"data": {"name": "plot"}, "transform": [{"filter": "datum.sec == 'E'"}], "mark": {"type": "point", "shape": "square", "filled": true, "fill": "#5fa98a", "stroke": "#2b4a3a", "strokeWidth": 0.8, "opacity": 1}, "encoding": {"size": {"field": "w", "type": "quantitative", "legend": null, "scale": {"type": "pow", "exponent": 2.5, "domain": [0, 80], "range": [3, 105]}}}},
     {"data": {"name": "pool"}, "transform": [{"filter": "datum.sec == 'E'"}, {"fold": ["lo","est","hi"], "as": ["k","xv"]}], "mark": {"type": "trail", "color": "#000000"}, "encoding": {"x": {"field": "xv", "type": "quantitative"}, "order": {"field": "xv", "type": "quantitative"}, "size": {"field": "k", "type": "ordinal", "legend": null, "scale": {"type": "ordinal", "domain": ["lo","est","hi"], "range": [0, 12, 0]}}}}
    ]
   }
  ]
 },
 {
  "width": 750, "height": 171,
  "title": {"text": "F. Cervical Stenosis (monitoring: range 3 months to 24 months)"},
  "encoding": {"y": {"field": "row", "type": "nominal", "axis": null, "scale": {"domain": ["h1","h2","r1","r2","r3","tot","ev","het","z"], "range": [0, 171], "paddingInner": 0, "paddingOuter": 0}}},
  "resolve": {"scale": {"x": "independent"}},
  "layer": [
   {"data": {"name": "hdrbg"}, "mark": {"type": "rect", "color": "#dfe3f1"}},
   {"mark": {"type": "rule", "color": "#4a68ab", "strokeWidth": 2}, "encoding": {"y": {"datum": "h1", "bandPosition": 0}}},
   {"mark": {"type": "rule", "color": "#4a68ab", "strokeWidth": 2}, "encoding": {"y": {"datum": "z", "bandPosition": 1}}},
   {"mark": {"type": "rule", "color": "#6f86bd", "strokeWidth": 1}, "encoding": {"y": {"datum": "r1", "bandPosition": 0}}},
   {
    "encoding": {"x": {"field": "col", "type": "nominal", "axis": null, "scale": {"type": "point", "range": [4, 748], "padding": 0, "domain": ["study","p1","p2","p3","p4","p5","p6","p7","p8","p9","ce","p11","cc","p13","ct","p15","p16","p17","le","p19","lp","p21","lt","p23","p24","p25","w","p27","p28","p29","p30","p31","p32","rr","p34","p35","p36","p37","p38","p39","p40","p41","p42","p43","p44","p45","p46","p47","p48","p49","fp","p51","p52","p53","p54","p55","p56","p57","p58","p59","p60","p61","p62"]}}},
    "layer": [
     {"data": {"name": "header"}, "transform": [{"filter": "datum.row != 'hs'"}], "mark": {"type": "text", "fontWeight": "bold", "fontSize": 10.5, "color": "#3e5b9a"}, "encoding": {"text": {"field": "label"}}},
     {"data": {"name": "header"}, "transform": [{"filter": "datum.col == 'w'"}], "mark": {"type": "text", "fontWeight": "bold", "fontSize": 10.5, "color": "#3e5b9a"}, "encoding": {"text": {"field": "label"}, "y": {"datum": "h2", "bandPosition": 0}}},
     {"data": {"name": "header"}, "transform": [{"filter": "datum.col == 'study'"}], "mark": {"type": "text", "fontWeight": "bold", "fontSize": 10.5, "color": "#3e5b9a", "align": "left", "dx": 2}, "encoding": {"text": {"field": "label"}, "y": {"datum": "h2", "bandPosition": 0}}},
     {"mark": {"type": "rule", "color": "#6f86bd", "xOffset": 5, "x2Offset": -5}, "encoding": {"x": {"datum": "p8"}, "x2": {"datum": "p16"}, "y": {"datum": "h2", "bandPosition": 0}}},
     {"mark": {"type": "rule", "color": "#6f86bd", "xOffset": 5, "x2Offset": -5}, "encoding": {"x": {"datum": "p16"}, "x2": {"datum": "p24"}, "y": {"datum": "h2", "bandPosition": 0}}},
     {"mark": {"type": "rule", "color": "#6f86bd", "xOffset": 5, "x2Offset": -5}, "encoding": {"x": {"datum": "p28"}, "x2": {"datum": "p38"}, "y": {"datum": "h2", "bandPosition": 0}}},
     {"mark": {"type": "rule", "color": "#6f86bd", "xOffset": 5, "x2Offset": -5}, "encoding": {"x": {"datum": "p38"}, "x2": {"datum": "p62"}, "y": {"datum": "h2", "bandPosition": 0}}},
     {"data": {"name": "tlines"}, "mark": {"type": "rule", "color": "#6f86bd", "xOffset": -4}, "encoding": {"x": {"datum": "study"}, "x2": {"datum": "p38"}, "y": {"field": "row", "type": "nominal", "bandPosition": 0}}},
     {"data": {"name": "tab"}, "transform": [{"filter": "datum.sec == 'F'"}], "mark": {"type": "text", "align": "left", "dx": 2}, "encoding": {"x": {"datum": "study"}, "text": {"field": "study"}}},
     {"data": {"name": "tab"}, "transform": [{"filter": "datum.sec == 'F'"}, {"fold": ["ce","ct","le","lt","w","rr"], "as": ["col","val"]}, {"filter": "isValid(datum.val)"}], "mark": {"type": "text"}, "encoding": {"text": {"field": "val"}}}
    ]
   },
   {
    "encoding": {"x": {"field": "est", "type": "quantitative", "axis": null, "scale": {"type": "log", "domain": [0.1, 10], "range": [512, 698], "clamp": true}}},
    "resolve": {"scale": {"size": "independent"}},
    "layer": [
     {"data": {"name": "extent"}, "mark": {"type": "rule", "color": "#3a3a3a"}, "encoding": {"x": {"field": "a", "type": "quantitative"}, "x2": {"field": "b"}, "y": {"datum": "r1", "bandPosition": 0.3}}},
     {"data": {"name": "ticks"}, "transform": [{"filter": "datum.v == 1"}], "mark": {"type": "rule", "color": "#808080", "strokeWidth": 1.5}, "encoding": {"x": {"field": "v", "type": "quantitative"}, "y": {"datum": "r1", "bandPosition": 0.3}, "y2": {"datum": "ev", "bandPosition": 0.7}}},
     {"data": {"name": "extent"}, "mark": {"type": "rule", "color": "#3a3a3a"}, "encoding": {"x": {"field": "a", "type": "quantitative"}, "x2": {"field": "b"}, "y": {"datum": "ev", "bandPosition": 0.7}}},
     {"data": {"name": "ticks"}, "mark": {"type": "rule", "color": "#3a3a3a"}, "encoding": {"x": {"field": "v", "type": "quantitative"}, "y": {"datum": "ev", "bandPosition": 0.7}, "y2": {"datum": "ev", "bandPosition": 0.96}}},
     {"data": {"name": "ticks"}, "mark": {"type": "text", "dy": 10.5}, "encoding": {"x": {"field": "v", "type": "quantitative"}, "y": {"datum": "ev", "bandPosition": 0.7}, "text": {"field": "lab"}}},
     {"data": {"name": "ticks"}, "transform": [{"filter": "datum.v == 1"}], "mark": {"type": "text", "align": "right", "dx": -6, "dy": 23, "text": "Cold Cone"}, "encoding": {"x": {"field": "v", "type": "quantitative"}, "y": {"datum": "ev", "bandPosition": 0.7}}},
     {"data": {"name": "ticks"}, "transform": [{"filter": "datum.v == 1"}], "mark": {"type": "text", "align": "left", "dx": 8, "dy": 23, "text": "LEEP"}, "encoding": {"x": {"field": "v", "type": "quantitative"}, "y": {"datum": "ev", "bandPosition": 0.7}}},
     {"data": {"name": "plot"}, "transform": [{"filter": "datum.sec == 'F'"}], "mark": {"type": "rule", "color": "#3a3a3a"}, "encoding": {"x": {"field": "lo", "type": "quantitative"}, "x2": {"field": "hi"}}},
     {"data": {"name": "plot"}, "transform": [{"filter": "datum.sec == 'F'"}], "mark": {"type": "point", "shape": "square", "filled": true, "fill": "#5fa98a", "stroke": "#2b4a3a", "strokeWidth": 0.8, "opacity": 1}, "encoding": {"size": {"field": "w", "type": "quantitative", "legend": null, "scale": {"type": "pow", "exponent": 2.5, "domain": [0, 80], "range": [3, 105]}}}},
     {"data": {"name": "pool"}, "transform": [{"filter": "datum.sec == 'F'"}, {"fold": ["lo","est","hi"], "as": ["k","xv"]}], "mark": {"type": "trail", "color": "#000000"}, "encoding": {"x": {"field": "xv", "type": "quantitative"}, "order": {"field": "xv", "type": "quantitative"}, "size": {"field": "k", "type": "ordinal", "legend": null, "scale": {"type": "ordinal", "domain": ["lo","est","hi"], "range": [0, 10, 0]}}}}
    ]
   }
  ]
 }
]
}
